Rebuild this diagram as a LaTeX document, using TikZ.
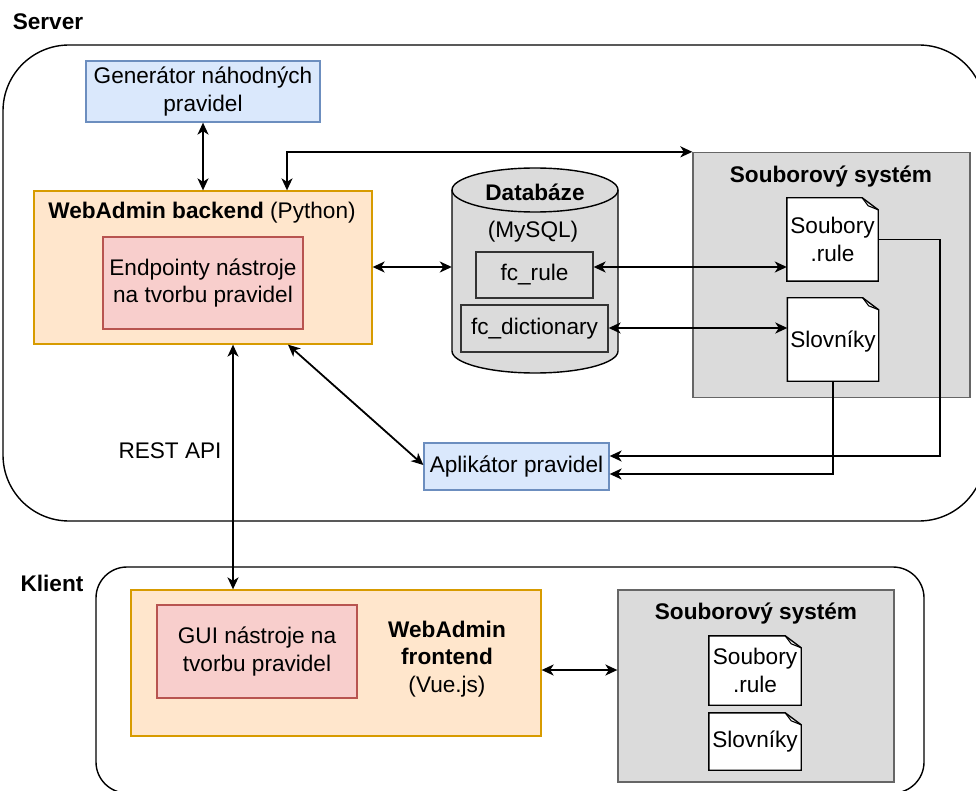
\documentclass[tikz,border=0pt]{standalone}
\usepackage{fontspec}
\setmainfont{Liberation Sans}
\usetikzlibrary{arrows.meta,calc}

\definecolor{blueF}{HTML}{DAE8FC}
\definecolor{blueS}{HTML}{6C8EBF}
\definecolor{orangeF}{HTML}{FFE6CC}
\definecolor{orangeS}{HTML}{D79B00}
\definecolor{redF}{HTML}{F8CECC}
\definecolor{redS}{HTML}{B85450}
\definecolor{grayF}{HTML}{DBDBDB}
\definecolor{grayS}{HTML}{666666}

\tikzset{
  ah/.tip={Stealth[length=12pt,width=11pt,inset=3.5pt]},
  box/.style={draw, line width=1.3pt, inner sep=0pt, align=center},
  bluebox/.style={box, fill=blueF, draw=blueS},
  orangebox/.style={box, fill=orangeF, draw=orangeS},
  redbox/.style={box, fill=redF, draw=redS},
  fsbox/.style={box, fill=grayF, draw=grayS},
  tablebox/.style={box, fill=grayF, draw=black!80},
  docnode/.style={inner sep=0pt, align=center},
  zone/.style={draw, line width=1.4pt},
  conn/.style={line width=1.8pt},
  txt/.style={inner sep=0pt, align=center},
}

% folded-corner document outline around a node
\newcommand{\docoutline}[1]{%
  \draw[line width=1.4pt, fill=white]
    (#1.north west) -- ([xshift=-16pt]#1.north east)
    -- ([yshift=-12pt]#1.north east) -- (#1.south east)
    -- (#1.south west) -- cycle;
  \draw[line width=1.1pt]
    ([xshift=-16pt]#1.north east) -- ([xshift=-10pt,yshift=-8pt]#1.north east)
    -- ([yshift=-12pt]#1.north east);
}

\begin{document}
\begin{tikzpicture}[x=1pt, y=-1pt, font=\fontsize{22.6pt}{27.5pt}\selectfont]
\useasboundingbox (0,0) rectangle (976,791);
\clip (0,0) rectangle (976,791);

% ---------- zones ----------
\node[zone, rounded corners=66pt, minimum width=982pt, minimum height=476pt] (server) at (494,283) {};
\node[txt, font=\fontsize{22.6pt}{27.5pt}\selectfont\bfseries] (serverlbl) at (48,22) {Server};

\node[zone, rounded corners=31pt, minimum width=828pt, minimum height=226pt] (klient) at (510,680) {};
\node[txt, font=\fontsize{22.6pt}{27.5pt}\selectfont\bfseries] (klientlbl) at (52,583) {Klient};

% ---------- server side ----------
\node[bluebox, minimum width=234pt, minimum height=61pt] (gen) at (203,91.5) {Generátor náhodných\\pravidel};

\node[orangebox, minimum width=338pt, minimum height=153pt] (backend) at (203,267.5) {};
\node[txt] (backendtitle) at (202,213) {\textbf{WebAdmin backend} (Python)};
\node[redbox, minimum width=200pt, minimum height=92pt] (endp) at (203,283) {Endpointy nástroje\\na tvorbu pravidel};

% database cylinder
\fill[grayF] (452,190) -- (452,351) arc[start angle=180, end angle=0, x radius=83, y radius=22]
  -- (618,190) arc[start angle=0, end angle=-180, x radius=83, y radius=22] -- cycle;
\draw[line width=1.4pt] (452,190) -- (452,351) arc[start angle=180, end angle=0, x radius=83, y radius=22] -- (618,190);
\draw[line width=1.4pt, fill=grayF] (535,190) ellipse[x radius=83, y radius=22];
\node[minimum width=166pt, minimum height=205pt, inner sep=0pt] (db) at (535,270.5) {};
\node[txt, font=\fontsize{22.6pt}{27.5pt}\selectfont\bfseries] (dbtitle) at (535,192) {Databáze};
\node[txt] (dbsub) at (533,232) {(MySQL)};
\node[tablebox, minimum width=117pt, minimum height=46pt] (fcrule) at (534.5,275) {fc\_rule};
\node[tablebox, minimum width=147pt, minimum height=47pt] (fcdict) at (534.5,328.5) {fc\_dictionary};

% server file system
\node[fsbox, minimum width=277pt, minimum height=245pt] (fs) at (831.5,275) {};
\node[txt, font=\fontsize{22.6pt}{27.5pt}\selectfont\bfseries] (fstitle) at (831,177) {Souborový systém};
\node[docnode, minimum width=91pt, minimum height=83pt] (soub) at (832.5,239.5) {};
\docoutline{soub}
\node[txt] at (soub) {Soubory\\.rule};
\node[docnode, minimum width=91pt, minimum height=83pt] (slov) at (833,339.5) {};
\docoutline{slov}
\node[txt] at ([yshift=-2pt]slov.center) {Slovníky};

\node[bluebox, minimum width=185pt, minimum height=47pt] (apl) at (516.5,466.5) {Aplikátor pravidel};

% ---------- client side ----------
\node[orangebox, minimum width=410pt, minimum height=146pt] (fe) at (336,663) {};
\node[redbox, minimum width=200pt, minimum height=93pt] (gui) at (257,651.5) {GUI nástroje na\\tvorbu pravidel};
\node[txt] (fetitle) at (447,659) {\textbf{WebAdmin}\\\textbf{frontend}\\(Vue.js)};

\node[fsbox, minimum width=276pt, minimum height=192pt] (fs2) at (756,686) {};
\node[txt, font=\fontsize{22.6pt}{27.5pt}\selectfont\bfseries] (fs2title) at (756,614) {Souborový systém};
\node[docnode, minimum width=92pt, minimum height=69pt] (soub2) at (755,670.5) {};
\docoutline{soub2}
\node[txt] at (soub2) {Soubory\\.rule};
\node[docnode, minimum width=92pt, minimum height=57pt] (slov2) at (755,741.5) {};
\docoutline{slov2}
\node[txt] at (slov2) {Slovníky};

% ---------- connectors ----------
\draw[conn, {ah}-{ah}] (gen.south) -- (backend.north);
\draw[conn, {ah}-{ah}] ([xshift=84pt]backend.north) |- (fs.north west);
\draw[conn, {ah}-{ah}] ([yshift=0.5pt]backend.east) -- ([yshift=0.5pt]backend.east -| db.west);
\draw[conn, {ah}-{ah}] ([yshift=8pt]fcrule.east) -- ([yshift=8pt]fcrule.east -| soub.west);
\draw[conn, {ah}-{ah}] ([yshift=0.5pt]fcdict.east) -- ([yshift=0.5pt]fcdict.east -| slov.west);
\draw[conn, -{ah}] (soub.east) -- ++(62,0) |- ([yshift=10.5pt]apl.east);
\draw[conn, -{ah}] (slov.south) |- ([yshift=-7.5pt]apl.east);
\draw[conn, {ah}-{ah}] ([xshift=85pt]backend.south) -- ([yshift=1.5pt]apl.west);
\draw[conn, {ah}-{ah}] ([xshift=30pt]backend.south) -- ([xshift=30pt]backend.south |- fe.north);
\node[txt] (rest) at (170,451) {REST API};
\draw[conn, {ah}-{ah}] ([yshift=-7pt]fe.east) -- ([yshift=-7pt]fe.east -| fs2.west);

\end{tikzpicture}
\end{document}
